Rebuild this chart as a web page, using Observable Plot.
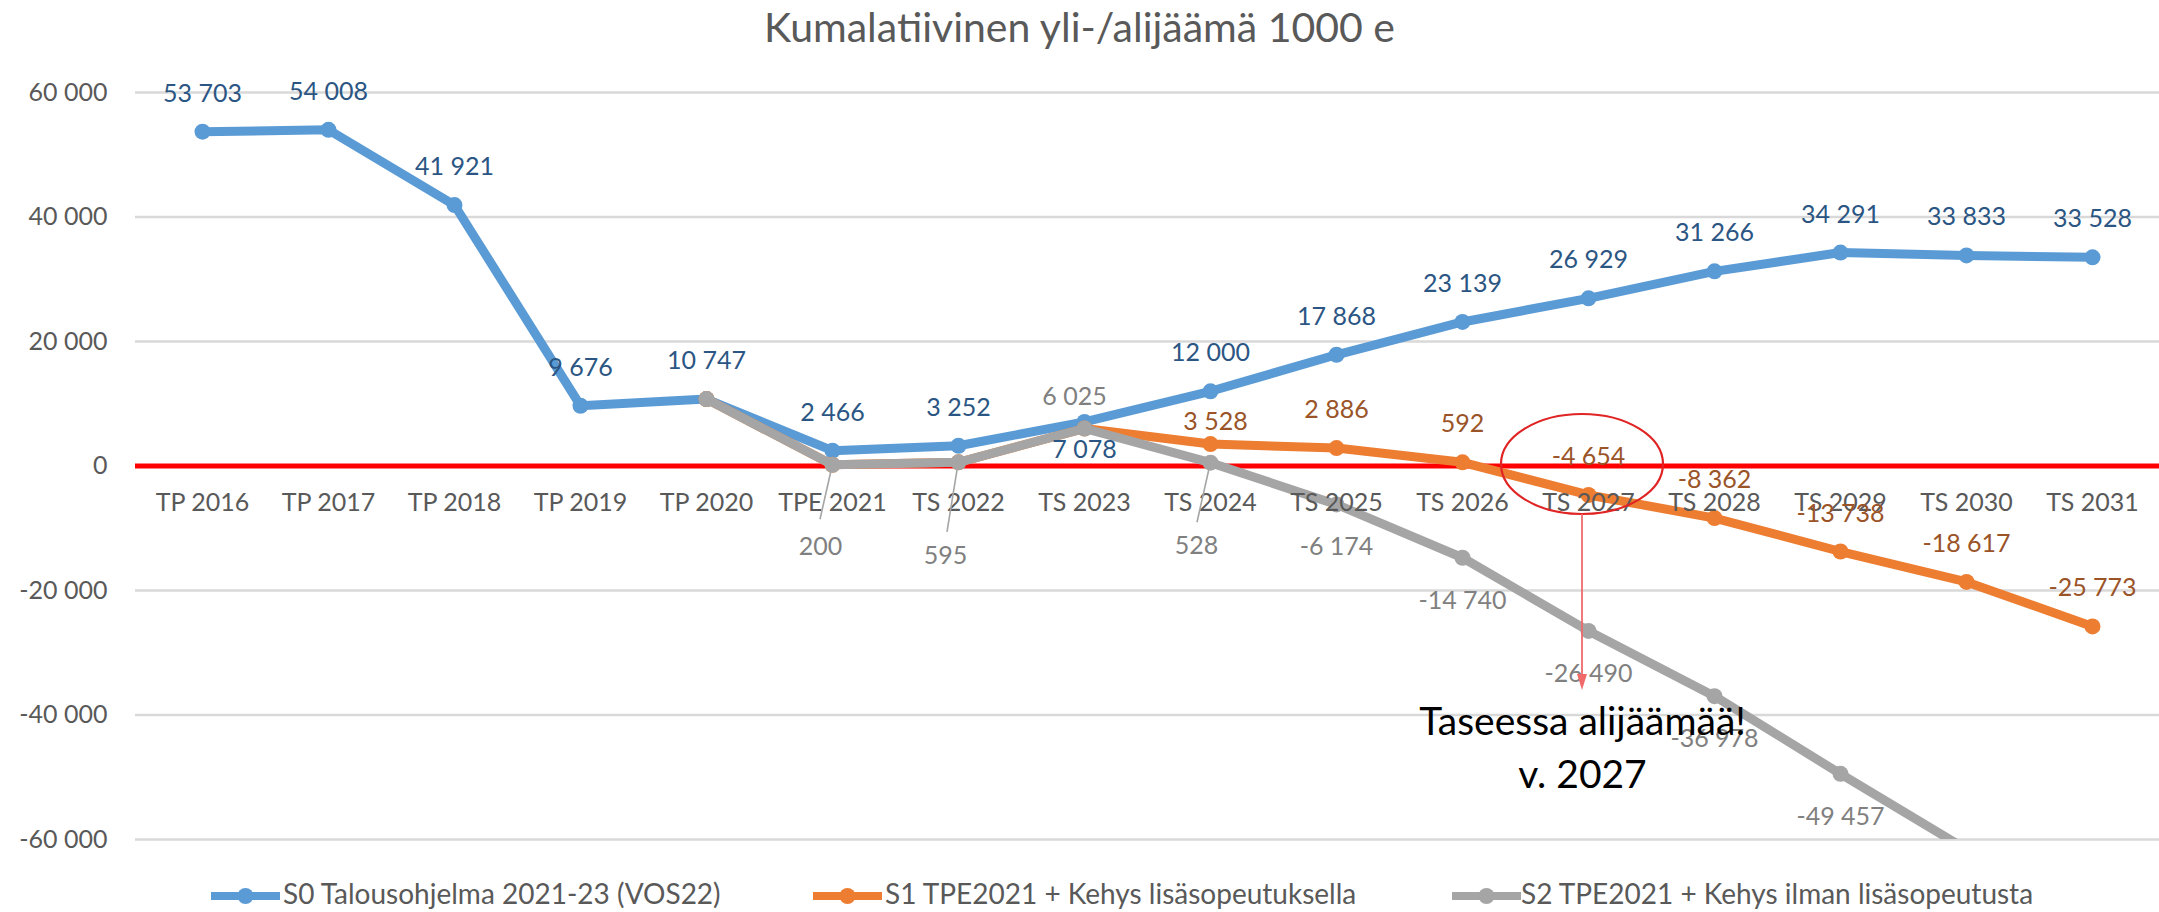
<!DOCTYPE html>
<html>
<head>
<meta charset="utf-8">
<script src="https://cdn.jsdelivr.net/npm/d3@7"></script>
<script src="https://cdn.jsdelivr.net/npm/@observablehq/plot@0.6"></script>
<style>
  html, body { margin: 0; padding: 0; background: #fff; }
  body { width: 2159px; height: 912px; position: relative; overflow: hidden; font-family: Lato, "Open Sans", sans-serif; }
  #title { position: absolute; top: 6px; left: 0; width: 2159px; text-align: center; font-size: 41px; line-height: 41px; color: #595959; }
  #chart { position: absolute; top: 62px; left: 0; }
  .legsw { position: absolute; top: 886px; width: 69px; height: 20px; }
  .legtx { position: absolute; top: 879px; font-size: 28px; line-height: 28px; color: #595959; white-space: nowrap; }
</style>
</head>
<body>
<div id="title">Kumalatiivinen yli-/alijäämä 1000 e</div>
<div id="chart"></div>
<div id="legend"></div>
<script>
// ---- data ----
const categories = ["TP 2016","TP 2017","TP 2018","TP 2019","TP 2020","TPE 2021","TS 2022","TS 2023","TS 2024","TS 2025","TS 2026","TS 2027","TS 2028","TS 2029","TS 2030","TS 2031"];
const s0Values = [53703, 54008, 41921, 9676, 10747, 2466, 3252, 7078, 12000, 17868, 23139, 26929, 31266, 34291, 33833, 33528];
const s1Values = [null, null, null, null, 10747, 200, 595, 6025, 3528, 2886, 592, -4654, -8362, -13738, -18617, -25773];
const s2Values = [null, null, null, null, 10747, 200, 595, 6025, 528, -6174, -14740, -26490, -36978, -49457, -61600, -74000];
const seriesNames = ["S0 Talousohjelma 2021-23 (VOS22)", "S1 TPE2021 + Kehys lisäsopeutuksella", "S2 TPE2021 + Kehys ilman lisäsopeutusta"];
const yTicks = [-60000, -40000, -20000, 0, 20000, 40000, 60000];
const annotationLines = ["Taseessa alijäämää!", "v. 2027"];
const annotationCategory = "TS 2027";
const annotationValue = -44800;

// ---- styles ----
const lineColors = ["#5B9BD5", "#ED7D31", "#A5A5A5"];
const labelColors = ["#2B5683", "#9A5428", "#808080"];
const axisColor = "#595959";

const fmt = d => (d < 0 ? "-" : "") + d3.format(",")(Math.abs(d)).replace(/,/g, " ");

const allValues = [s0Values, s1Values, s2Values];
const seriesRows = allValues.map((vals, s) =>
  categories.map((c, i) => ({cat: c, value: vals[i], s, i})).filter(d => d.value != null));

// label placement (pixel offsets relative to each point)
const labelRows = [];
seriesRows[0].forEach(d => labelRows.push({...d, dx: 0, dy: d.cat === "TS 2023" ? 28 : -38}));
seriesRows[1].filter(d => d.i >= 8).forEach(d => labelRows.push({...d, dx: d.cat === "TS 2024" ? 5 : 0, dy: d.cat === "TS 2024" ? -22 : -38}));
const grayOffsets = {"TPE 2021": [-12, 82], "TS 2022": [-13, 94], "TS 2023": [-10, -31], "TS 2024": [-14, 83]};
seriesRows[2].filter(d => d.i >= 5 && d.i <= 13).forEach(d => {
  const o = grayOffsets[d.cat] || [0, 43];
  labelRows.push({...d, dx: o[0], dy: o[1]});
});
const groups = d3.groups(labelRows, d => `${d.s}|${d.dx}|${d.dy}`);
const labelMarks = groups.map(([k, rows]) => Plot.text(rows, {
  x: "cat", y: "value", text: d => fmt(d.value), dx: rows[0].dx, dy: rows[0].dy,
  fill: labelColors[rows[0].s], fontSize: 25
}));

const seriesMarks = [];
seriesRows.forEach((rows, s) => {
  const clip = s === 2;
  seriesMarks.push(Plot.line(rows, {x: "cat", y: "value", stroke: lineColors[s], strokeWidth: 9, strokeLinejoin: "round", strokeLinecap: "round", clip}));
  seriesMarks.push(Plot.dot(rows, {x: "cat", y: "value", r: 8, fill: lineColors[s], clip}));
});

const plot = Plot.plot({
  width: 2159, height: 816,
  marginLeft: 135, marginRight: 0, marginTop: 30, marginBottom: 39,
  style: {fontFamily: "Lato, 'Open Sans', sans-serif", fontSize: "25px", background: "transparent", overflow: "visible"},
  x: {type: "point", domain: categories, padding: 0.5, axis: null},
  y: {domain: [-60000, 60000], axis: null},
  marks: [
    Plot.ruleY(yTicks.filter(d => d !== 0), {stroke: "#D9D9D9", strokeWidth: 2.5}),
    Plot.text(yTicks, {y: d => d, text: d => fmt(d), frameAnchor: "left", textAnchor: "end", dx: -28, fill: axisColor, fontSize: 25}),
    Plot.ruleY([0], {stroke: "#FF0000", strokeWidth: 5}),
    ...seriesMarks,
    Plot.text(categories, {x: d => d, y: () => 0, dy: 37, fill: axisColor, fontSize: 25}),
    ...labelMarks,
    Plot.text([annotationLines.join("\n")], {x: () => annotationCategory, y: () => annotationValue, dx: -6, fill: "#000", fontSize: 39, lineHeight: 1.34})
  ]
});
document.getElementById("chart").appendChild(plot);

// ---- annotation shapes (positioned via the plot's scales) ----
const xs = plot.scale("x"), ys = plot.scale("y");
const svg = d3.select(plot.tagName.toLowerCase() === "svg" ? plot : plot.querySelector("svg"));
const g = svg.append("g");
// leader lines for relocated gray labels
[["TPE 2021", -12, 55], ["TS 2022", -11, 70], ["TS 2024", -13, 60]].forEach(([c, ldx, ldy]) => {
  const px = xs.apply(c), py = ys.apply(s2Values[categories.indexOf(c)]);
  g.append("line").attr("x1", px).attr("y1", py + 2).attr("x2", px + ldx).attr("y2", py + ldy)
    .attr("stroke", "#A5A5A5").attr("stroke-width", 1.6);
});
const cx = xs.apply(annotationCategory) - 6, cy = ys.apply(0) - 1.5;
g.append("ellipse").attr("cx", cx).attr("cy", cy).attr("rx", 81).attr("ry", 50)
  .attr("fill", "none").attr("stroke", "#E02424").attr("stroke-width", 2.2);
const tipY = cy + 50 + 176;
g.append("line").attr("x1", cx).attr("y1", cy + 50).attr("x2", cx).attr("y2", tipY - 10)
  .attr("stroke", "#F06A6A").attr("stroke-width", 1.8);
g.append("path").attr("d", `M${cx - 5},${tipY - 16}L${cx + 5},${tipY - 16}L${cx},${tipY}Z`).attr("fill", "#F06A6A");
// raise annotation text above shapes
svg.selectAll("text").filter(function() { return this.textContent.startsWith("Taseessa"); }).each(function() {
  const p = this.closest("g[aria-label]") || this.parentNode; svg.node().appendChild(p);
});

// ---- legend ----
const swatchLeft = [211, 813, 1452];
const textLeft = [283, 885, 1521];
const legend = document.getElementById("legend");
seriesNames.forEach((name, s) => {
  const sw = document.createElementNS("http://www.w3.org/2000/svg", "svg");
  sw.setAttribute("class", "legsw");
  sw.setAttribute("width", "69"); sw.setAttribute("height", "20");
  sw.style.left = swatchLeft[s] + "px";
  sw.innerHTML = `<line x1="0" y1="10" x2="69" y2="10" stroke="${lineColors[s]}" stroke-width="8"/><circle cx="34.5" cy="10" r="8" fill="${lineColors[s]}"/>`;
  legend.appendChild(sw);
  const tx = document.createElement("div");
  tx.className = "legtx";
  tx.style.left = textLeft[s] + "px";
  tx.textContent = name;
  legend.appendChild(tx);
});
</script>
</body>
</html>
